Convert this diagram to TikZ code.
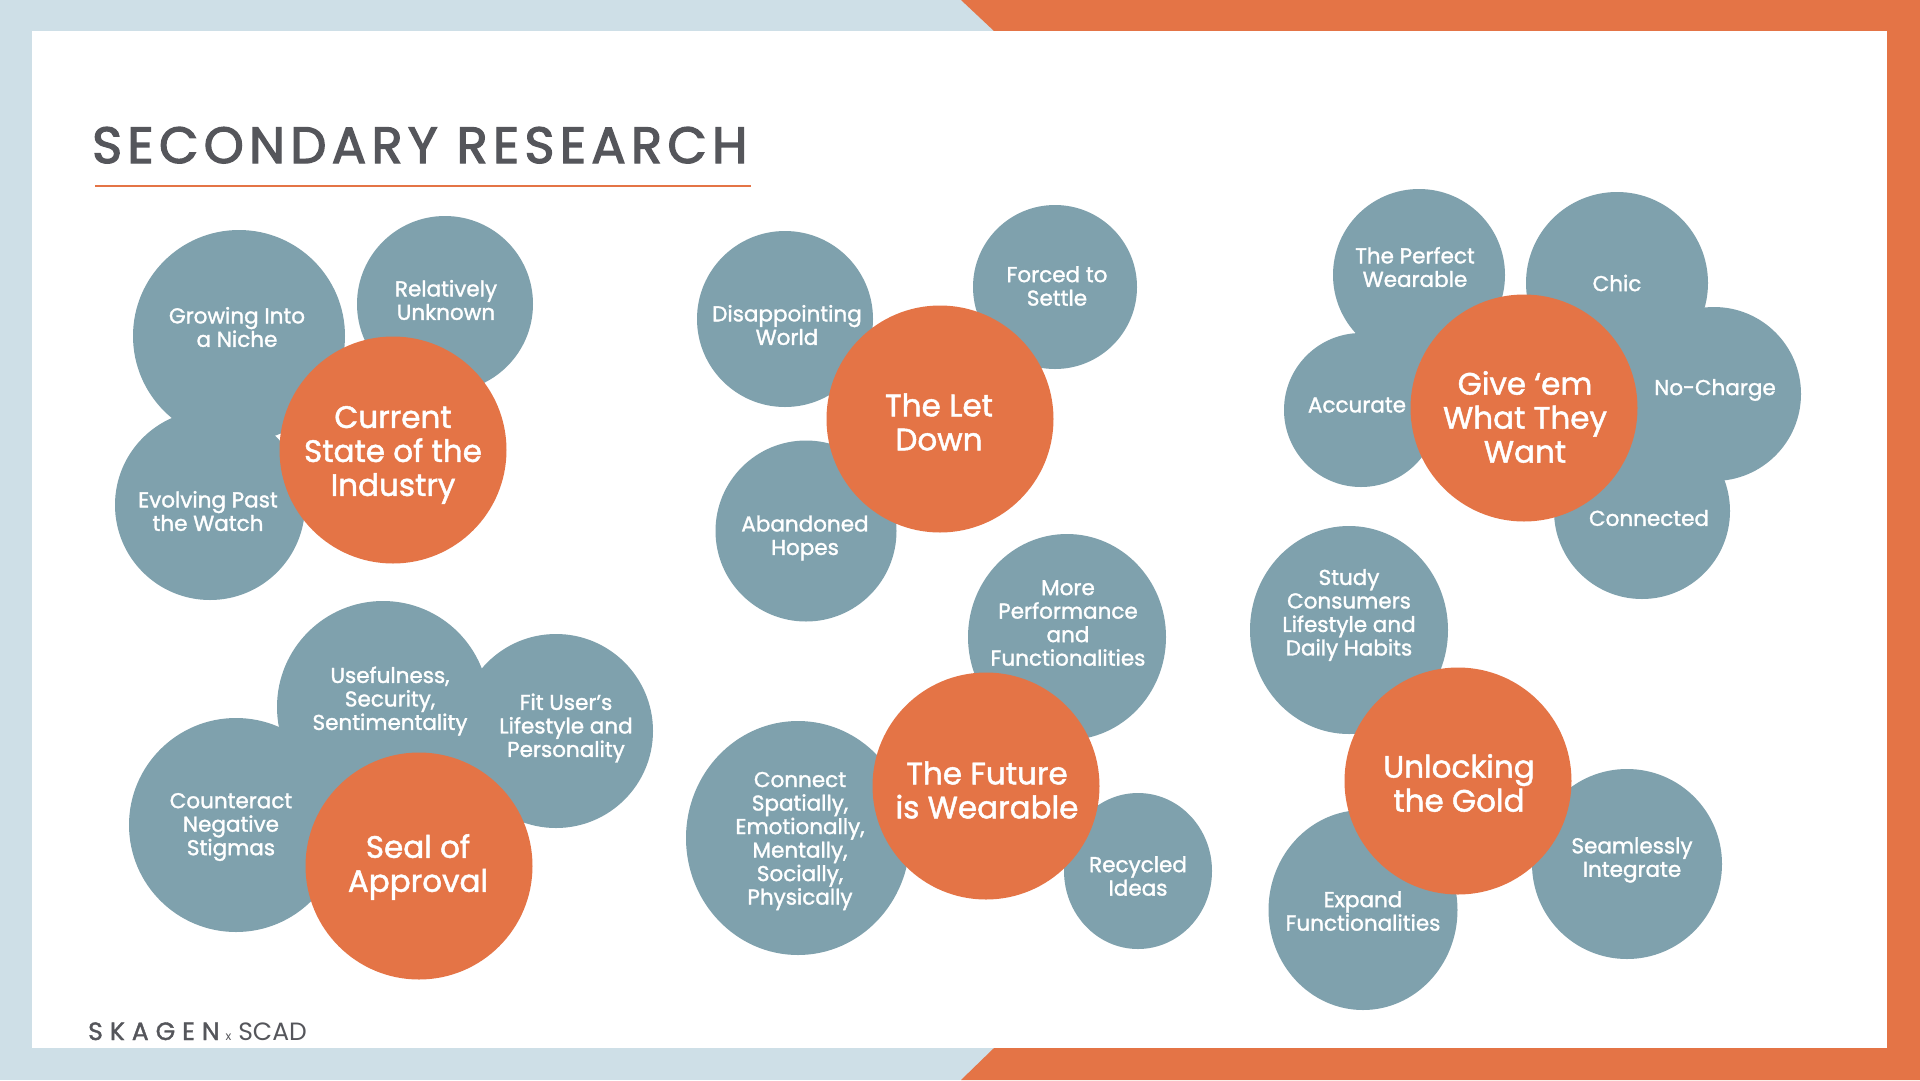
\documentclass[tikz,border=0pt]{standalone}
\usepackage{fontspec}
\setmainfont{Poppins}
\newfontfamily\medfont{Poppins}[FakeBold=1.5]
\newfontfamily\headfont{Poppins}[FakeBold=2.5, LetterSpace=10.5]
\newfontfamily\brandfont{Poppins}[FakeBold=1.5, LetterSpace=28]
\usetikzlibrary{shapes.geometric}
\definecolor{slate}{HTML}{7FA1AD}
\definecolor{rust}{HTML}{E47446}
\definecolor{mist}{HTML}{CEDFE7}
\definecolor{ink}{HTML}{55565B}

\begin{document}
\begin{tikzpicture}[
  x=1pt, y=-1pt,
  bubble/.style 2 args={ellipse, fill=slate, inner sep=0pt,
                        minimum width=#1, minimum height=#2},
  core/.style={circle, fill=rust, inner sep=0pt, minimum size=227pt},
  btxt/.style={text=white, align=center, inner sep=0pt,
               font=\medfont\fontsize{21.5}{23.5}\selectfont},
  ctxt/.style={text=white, align=center, inner sep=0pt,
               font=\medfont\fontsize{31}{34}\selectfont}
]
% frame
\fill[mist] (0,0) rectangle (1920,1080);
\fill[rust] (961,0) -- (1920,0) -- (1920,1080) -- (961,1080)
  -- (994,1048) -- (994,31) -- cycle;
\fill[white] (32,31) rectangle (1887,1048);

\node[anchor=base west, inner sep=0pt, text=ink,
      font=\headfont\fontsize{51}{51}\selectfont] (title) at (92,163)
  {SECONDARY RESEARCH};
\draw[rust, line width=2.5pt] (95,186) -- (751,186);

% current state of the industry
\node[bubble={212pt}{212pt}] (grow) at (239,336) {};
\node[bubble={176pt}{176pt}] (unknown) at (445,304) {};
\node[bubble={190pt}{190pt}] (evolve) at (210,505) {};
\node[core] (current) at (393,450) {};
\node[btxt] (grow-t) at (237,327) {Growing Into\\a Niche};
\node[btxt] (unknown-t) at (446,300) {Relatively\\Unknown};
\node[btxt] (evolve-t) at (208,511) {Evolving Past\\the Watch};
\node[ctxt] (current-t) at (393,455) {Current\\State of the\\Industry};

% the let down
\node[bubble={176pt}{176pt}] (disappoint) at (785,319) {};
\node[bubble={164pt}{164pt}] (settle) at (1055,287) {};
\node[bubble={181pt}{181pt}] (abandon) at (806,531) {};
\node[core] (letdown) at (940,419) {};
\node[btxt] (disappoint-t) at (787,325) {Disappointing\\World};
\node[btxt] (settle-t) at (1057,286) {Forced to\\Settle};
\node[btxt] (abandon-t) at (805,538) {Abandoned\\Hopes};
\node[ctxt] (letdown-t) at (939,422) {The Let\\Down};

% give 'em what they want
\node[bubble={172pt}{172pt}] (perfect) at (1419,275) {};
\node[bubble={182pt}{182pt}] (chic) at (1617,283) {};
\node[bubble={174pt}{174pt}] (nocharge) at (1714,394) {};
\node[bubble={154pt}{154pt}] (accurate) at (1361,410) {};
\node[bubble={176pt}{176pt}] (connected) at (1642,511) {};
\node[core] (giveem) at (1524,408) {};
\node[btxt] (perfect-t) at (1415,267) {The Perfect\\Wearable};
\node[btxt] (chic-t) at (1617,283) {Chic};
\node[btxt] (nocharge-t) at (1715,390) {No-Charge};
\node[btxt] (accurate-t) at (1357,405) {Accurate};
\node[btxt] (connected-t) at (1649,518) {Connected};
\node[ctxt] (giveem-t) at (1525,417) {Give ‘em\\What They\\Want};

% seal of approval
\node[bubble={212pt}{212pt}] (useful) at (383,707) {};
\node[bubble={194pt}{194pt}] (fit) at (556,731) {};
\node[bubble={214pt}{214pt}] (counter) at (236,825) {};
\node[core] (seal) at (419,866) {};
\node[btxt] (useful-t) at (390,701) {Usefulness,\\Security,\\Sentimentality};
\node[btxt] (fit-t) at (566,728) {Fit User’s\\Lifestyle and\\Personality};
\node[btxt] (counter-t) at (231,827) {Counteract\\Negative\\Stigmas};
\node[ctxt] (seal-t) at (418,867) {Seal of\\Approval};

% the future is wearable
\node[bubble={198pt}{206pt}] (more) at (1067,637) {};
\node[bubble={224pt}{234pt}] (connect) at (798,838) {};
\node[bubble={148pt}{156pt}] (recycled) at (1138,871) {};
\node[core] (future) at (986,786) {};
\node[btxt] (more-t) at (1068,623) {More\\Performance\\and\\Functionalities};
\node[btxt] (connect-t) at (800,841)
  {Connect\\Spatially,\\Emotionally,\\Mentally,\\Socially,\\Physically};
\node[btxt] (recycled-t) at (1138,876) {Recycled\\Ideas};
\node[ctxt] (future-t) at (987,790) {The Future\\is Wearable};

% unlocking the gold
\node[bubble={198pt}{208pt}] (study) at (1349,630) {};
\node[bubble={189pt}{200pt}] (expand) at (1363,910) {};
\node[bubble={190pt}{190pt}] (seamless) at (1627,864) {};
\node[core] (unlock) at (1458,781) {};
\node[btxt] (study-t) at (1349,615) {Study\\Consumers\\Lifestyle and\\Daily Habits};
\node[btxt] (expand-t) at (1363,911) {Expand\\Functionalities};
\node[btxt] (seamless-t) at (1632,860) {Seamlessly\\Integrate};
\node[ctxt] (unlock-t) at (1459,783) {Unlocking\\the Gold};

% footer
\node[anchor=base west, inner sep=0pt, text=ink,
      font=\fontsize{25}{25}\selectfont] (brand) at (88,1040)
  {{\brandfont SKAGEN}\hspace{6pt}{\fontsize{12}{12}\selectfont x}\hspace{7pt}SCAD};
\end{tikzpicture}
\end{document}
